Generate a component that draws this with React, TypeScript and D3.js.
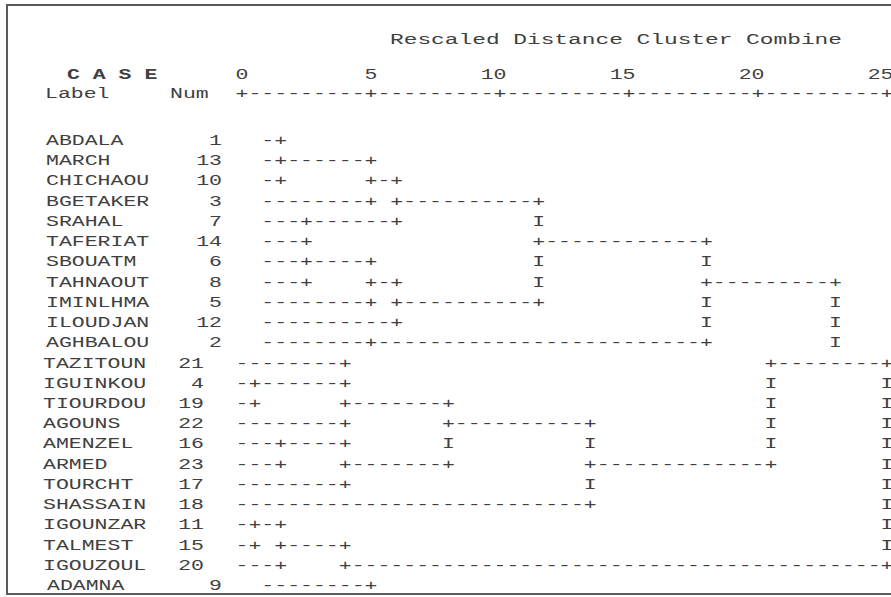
import React from "react";
import * as d3 from "d3";

// case labels and case numbers, top to bottom as printed
const labels = [
  "ABDALA", "MARCH", "CHICHAOU", "BGETAKER", "SRAHAL", "TAFERIAT", "SBOUATM",
  "TAHNAOUT", "IMINLHMA", "ILOUDJAN", "AGHBALOU", "TAZITOUN", "IGUINKOU",
  "TIOURDOU", "AGOUNS", "AMENZEL", "ARMED", "TOURCHT", "SHASSAIN", "IGOUNZAR",
  "TALMEST", "IGOUZOUL", "ADAMNA",
];
const caseNums = [1, 13, 10, 3, 7, 14, 6, 8, 5, 12, 2, 21, 4, 19, 22, 16, 23, 17, 18, 11, 15, 20, 9];

// rescaled distance ticks (2 text columns per unit)
const ticks = [0, 5, 10, 15, 20, 25];

const sp = (n: number) => " ".repeat(n);
const ds = (n: number) => "-".repeat(n);

// the dendrogram, one text line per case, as SPSS printed it
const tree = [
  "  -+",
  "  -+------+",
  "  -+" + sp(6) + "+-+",
  "  " + ds(8) + "+ +" + ds(10) + "+",
  "  ---+------+" + sp(10) + "I",
  "  ---+" + sp(17) + "+" + ds(12) + "+",
  "  ---+----+" + sp(12) + "I" + sp(12) + "I",
  "  ---+    +-+" + sp(10) + "I" + sp(12) + "+" + ds(9) + "+",
  "  " + ds(8) + "+ +" + ds(10) + "+" + sp(12) + "I" + sp(9) + "I",
  "  " + ds(10) + "+" + sp(23) + "I" + sp(9) + "I",
  "  " + ds(8) + "+" + ds(25) + "+" + sp(9) + "I",
  ds(8) + "+" + sp(32) + "+" + ds(8) + "+",
  "-+" + ds(6) + "+" + sp(32) + "I" + sp(8) + "I",
  "-+" + sp(6) + "+" + ds(7) + "+" + sp(24) + "I" + sp(8) + "I",
  ds(8) + "+" + sp(7) + "+" + ds(10) + "+" + sp(13) + "I" + sp(8) + "I",
  "---+----+" + sp(7) + "I" + sp(10) + "I" + sp(13) + "I" + sp(8) + "I",
  "---+    +" + ds(7) + "+" + sp(10) + "+" + ds(13) + "+" + sp(8) + "I",
  ds(8) + "+" + sp(18) + "I" + sp(22) + "I",
  ds(27) + "+" + sp(22) + "I",
  "-+-+" + sp(46) + "I",
  "-+ +----+" + sp(41) + "I",
  "---+    +" + ds(41) + "+",
  "  " + ds(8) + "+",
];

const W = 891;
const H = 597;
const cw = 12.9;
const font = "'Liberation Mono', 'DejaVu Sans Mono', monospace";
const ink = "#404040";

export default function App() {
  const col = d3.scaleLinear().domain([0, 50]).range([242, 242 + 50 * cw]);
  const row = d3.scalePoint<number>().domain(d3.range(labels.length)).range([140, 585]);

  // a run of characters laid on the text grid, starting at column c
  const run = (s: string, c: number, y: number, key: string) => (
    <text key={key} x={col(c) - cw / 2} y={y} textLength={s.length * cw} lengthAdjust="spacingAndGlyphs">
      {s}
    </text>
  );

  const pieces = (s: string, y: number, k: string) => {
    const out: any[] = [];
    const re = /\S+/g;
    let m;
    while ((m = re.exec(s)) !== null) out.push(run(m[0], m.index, y, k + "_" + m.index));
    return out;
  };

  const axisLine = ticks.map(() => "+").join(ds(9));
  const headY = 79;
  const axisY = 98;

  return (
    <div style={{ position: "absolute", left: 0, top: 0 }}>
      <svg width={W} height={H} style={{ display: "block", background: "#fff" }}>
        <rect x={7} y={5} width={W + 20} height={589} fill="#fff" stroke="#5a5a5a" strokeWidth={2} />
        <g fontFamily={font} fontSize={15.5} fill={ink}>
          <text x={390} y={44} textLength={452} lengthAdjust="spacingAndGlyphs">
            Rescaled Distance Cluster Combine
          </text>
          <text x={67} y={headY} textLength={7 * cw} lengthAdjust="spacingAndGlyphs" fontWeight="bold">
            C A S E
          </text>
          <text x={45} y={axisY} textLength={5 * cw} lengthAdjust="spacingAndGlyphs">Label</text>
          <text x={170} y={axisY} textLength={3 * cw} lengthAdjust="spacingAndGlyphs">Num</text>
          {ticks.map((t) => {
            const s = String(t);
            return (
              <text key={"t" + t} x={col(t * 2) + cw / 2} y={headY} textAnchor="end"
                textLength={s.length * cw} lengthAdjust="spacingAndGlyphs">
                {s}
              </text>
            );
          })}
          {run(axisLine, 0, axisY, "axis")}

          {labels.map((name, i) => {
            const y = (row(i) as number) + 5;
            const top = i < 11;
            const lx = i === 22 ? 47 : top ? 46 : 43;
            const nx = i === 22 || top ? 222 : 204;
            const n = String(caseNums[i]);
            return (
              <g key={name}>
                <text x={lx} y={y} textLength={name.length * cw} lengthAdjust="spacingAndGlyphs">{name}</text>
                <text x={nx} y={y} textAnchor="end" textLength={n.length * cw} lengthAdjust="spacingAndGlyphs">{n}</text>
                {pieces(tree[i], y, name)}
              </g>
            );
          })}
        </g>
      </svg>
    </div>
  );
}
